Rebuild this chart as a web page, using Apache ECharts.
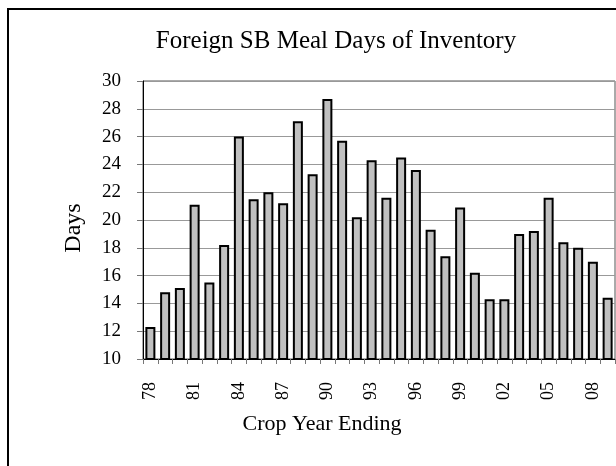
<!DOCTYPE html>
<html><head><meta charset="utf-8">
<script src="https://cdn.jsdelivr.net/npm/echarts@6/dist/echarts.min.js"></script>
<style>html,body{margin:0;padding:0;background:#fff}#c{width:616px;height:466px}</style>
</head><body><div id="c"></div>
<script>
var categories = ['78','79','80','81','82','83','84','85','86','87','88','89','90','91','92','93','94','95','96','97','98','99','00','01','02','03','04','05','06','07','08','09'];
var daysValues = [12.3,14.8,15.1,21.1,15.5,18.2,26.0,21.5,22.0,21.2,27.1,23.3,28.7,25.7,20.2,24.3,21.6,24.5,23.6,19.3,17.4,20.9,16.2,14.3,14.3,19.0,19.2,21.6,18.4,18.0,17.0,14.4];
var yTicks = [10,30,2];
var titleText = 'Foreign SB Meal Days of Inventory';
var xName = 'Crop Year Ending';
var yName = 'Days';
var F = 'Liberation Serif';
var chart = echarts.init(document.getElementById('c'));
chart.setOption({
  animation: false,
  backgroundColor: '#fff',
  title: {text: titleText, left: 331, textAlign: 'center', top: 24, textStyle: {fontFamily: F, fontSize: 25, fontWeight: 'normal', color: '#000'}},
  graphic: [{type: 'rect', shape: {x: 8, y: 9, width: 700, height: 600}, style: {fill: 'none', stroke: '#000', lineWidth: 2}, silent: true}],
  grid: {left: 143, right: 1, top: 81, bottom: 107, show: true, borderColor: '#555', borderWidth: 1},
  xAxis: {
    type: 'category', data: categories,
    name: xName, nameLocation: 'middle', nameGap: 54,
    nameTextStyle: {fontFamily: F, fontSize: 22, color: '#000', padding: [0, 114, 0, 0]},
    axisLine: {lineStyle: {color: '#000', width: 1}},
    axisTick: {show: true, length: 5, interval: 0, lineStyle: {color: '#777'}},
    axisLabel: {interval: 2, rotate: 90, margin: 23, fontFamily: F, fontSize: 18, color: '#000'}
  },
  yAxis: {
    type: 'value', min: yTicks[0], max: yTicks[1], interval: yTicks[2],
    name: yName, nameLocation: 'middle', nameGap: 57,
    nameTextStyle: {fontFamily: F, fontSize: 24, color: '#000', padding: [0, 16, 0, 0]},
    axisLine: {show: true, lineStyle: {color: '#000', width: 1}},
    axisTick: {show: true, length: 6, lineStyle: {color: '#777'}},
    axisLabel: {margin: 22, fontFamily: F, fontSize: 19, color: '#000'},
    splitLine: {lineStyle: {color: '#999', width: 1}}
  },
  series: [{
    type: 'bar', data: daysValues, barWidth: 10,
    itemStyle: {color: '#c0c0c0', borderColor: '#000', borderWidth: 2}
  }]
});
</script></body></html>
